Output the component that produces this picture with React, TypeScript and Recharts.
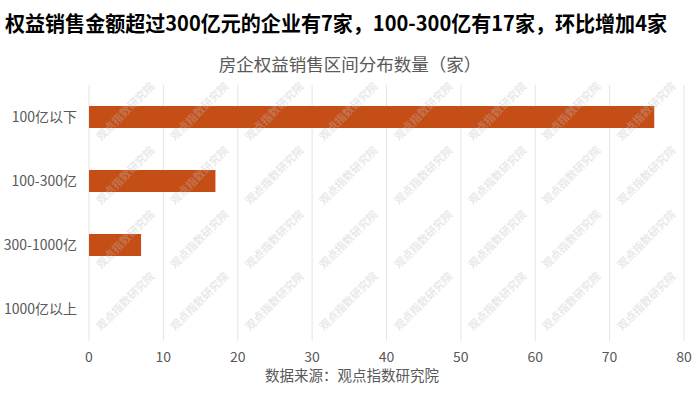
import { BarChart, Bar, XAxis, YAxis, CartesianGrid } from 'recharts';

// Company count per equity-sales band (家)
const categories = ['100亿以下', '100-300亿', '300-1000亿', '1000亿以上'];
const companyCounts = [76, 17, 7, 0];
const xTicks = [0, 10, 20, 30, 40, 50, 60, 70, 80];

const TITLE = '权益销售金额超过300亿元的企业有7家，100-300亿有17家，环比增加4家';
const SUBTITLE = '房企权益销售区间分布数量（家）';
const SOURCE = '数据来源：观点指数研究院';
const WATERMARK = '观点指数研究院';

const FONT = '"Noto Sans CJK SC", "Noto Sans", sans-serif';
const COLORS = {
  bar: '#C54E17',
  grid: '#E4E4E4',
  axisText: '#595959',
  title: '#000000',
  watermark: 'rgba(190, 190, 190, 0.35)',
};

const data = categories.map((name, i) => ({ name, value: companyCounts[i] }));

// watermark tiling positions (decoration only)
const wmCols = [126, 200, 275, 349, 424, 498, 572, 647];
const wmRows = [112, 176, 240, 302];

export default function App() {
  return (
    <div
      style={{
        position: 'absolute',
        left: 0,
        top: 0,
        width: 700,
        height: 394,
        background: '#fff',
        fontFamily: FONT,
      }}
    >
      <BarChart
        width={700}
        height={394}
        data={data}
        layout="vertical"
        margin={{ top: 85, right: 16, bottom: 23, left: 0 }}
      >
        <CartesianGrid horizontal={false} stroke={COLORS.grid} />
        <XAxis
          type="number"
          domain={[0, 80]}
          ticks={xTicks}
          axisLine={false}
          tickLine={false}
          tickMargin={5}
          height={30}
          tick={{ fill: COLORS.axisText, fontSize: 14, fontFamily: FONT }}
        />
        <YAxis
          type="category"
          dataKey="name"
          width={89}
          axisLine={false}
          tickLine={false}
          tickMargin={6}
          tick={{ fill: COLORS.axisText, fontSize: 14, fontFamily: FONT }}
        />
        <Bar dataKey="value" fill={COLORS.bar} barSize={22} isAnimationActive={false} />
      </BarChart>

      {/* titles + watermark drawn over the chart */}
      <svg
        width={700}
        height={394}
        style={{ position: 'absolute', left: 0, top: 0, pointerEvents: 'none' }}
      >
        {wmRows.map((cy) =>
          wmCols.map((cx) => (
            <text
              key={`${cx}-${cy}`}
              x={cx}
              y={cy}
              fontSize={11}
              fontWeight="bold"
              fill={COLORS.watermark}
              fontFamily={FONT}
              textAnchor="middle"
              dominantBaseline="middle"
              transform={`rotate(-45 ${cx} ${cy})`}
            >
              {WATERMARK}
            </text>
          ))
        )}
        <text
          x={5}
          y={31}
          fontSize={21}
          fontWeight="bold"
          fill={COLORS.title}
          fontFamily={FONT}
          textLength={662}
          lengthAdjust="spacingAndGlyphs"
        >
          {TITLE}
        </text>
        <text x={350} y={71} fontSize={17.5} fill={COLORS.axisText} fontFamily={FONT} textAnchor="middle">
          {SUBTITLE}
        </text>
        <text x={352} y={381} fontSize={14.5} fill={COLORS.axisText} fontFamily={FONT} textAnchor="middle">
          {SOURCE}
        </text>
      </svg>
    </div>
  );
}
